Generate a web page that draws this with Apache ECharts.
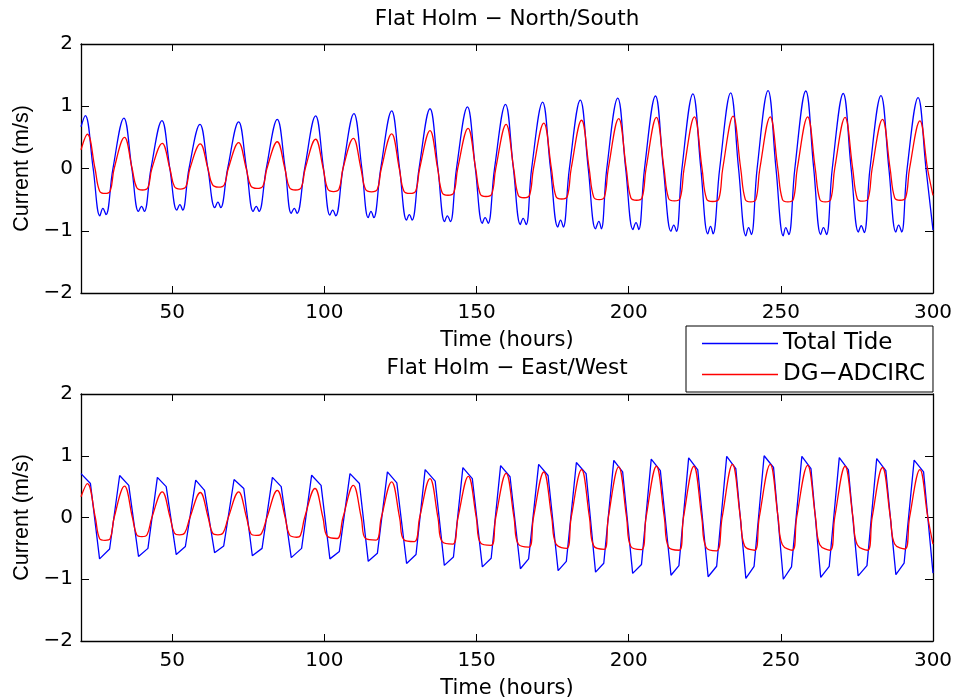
<!DOCTYPE html>
<html><head><meta charset="utf-8">
<script src="https://cdn.jsdelivr.net/npm/echarts@6/dist/echarts.min.js"></script>
<style>html,body{margin:0;padding:0;background:#fff}#c{width:956px;height:700px}</style>
</head><body><div id="c"></div>
<script>
const xTicks = [50, 100, 150, 200, 250, 300];
const seriesNames = ['Total Tide', 'DG\u2212ADCIRC'];
const panelTitles = ['Flat Holm \u2212 North/South', 'Flat Holm \u2212 East/West'];
const xName = 'Time (hours)';
const yName = 'Current (m/s)';

// North/South, Total Tide (hour, m/s)
const nsTotal = [
[20,0.67],[21.4,0.85],[24.0,0],[26.2,-0.76],[27.2,-0.64],[28.2,-0.74],[30.5,0],
[34.1,0.81],[36.7,0],[38.9,-0.69],[39.9,-0.61],[40.8,-0.69],[43.0,0],
[46.6,0.77],[49.2,0],[51.5,-0.67],[52.5,-0.58],[53.4,-0.67],[55.5,0],
[59.1,0.71],[61.7,0],[64.0,-0.63],[65.0,-0.54],[65.9,-0.63],[68.2,0],
[71.8,0.75],[74.4,0],[76.6,-0.69],[77.6,-0.61],[78.5,-0.69],[80.9,0],
[84.5,0.79],[87.1,0],[89.1,-0.72],[90.1,-0.64],[91.0,-0.72],[93.5,0],
[97.1,0.845],[99.7,0],[101.8,-0.75],[102.7,-0.67],[103.7,-0.76],[106.1,0],
[109.7,0.88],[112.3,0],[114.4,-0.79],[115.3,-0.69],[116.2,-0.79],[118.5,0],
[122.1,0.925],[124.7,0],[127.0,-0.83],[127.9,-0.74],[128.8,-0.83],[131.1,0],
[134.7,0.96],[137.3,0],[139.5,-0.855],[140.4,-0.76],[141.4,-0.855],[143.4,0],
[147.0,0.99],[149.6,0],[151.9,-0.88],[152.8,-0.79],[153.8,-0.88],[155.9,0],
[159.5,1.03],[162.1,0],[164.4,-0.90],[165.3,-0.80],[166.3,-0.90],[168.1,0],
[171.7,1.065],[174.3,0],[176.7,-0.94],[177.6,-0.83],[178.5,-0.94],[180.5,0],
[184.1,1.10],[186.7,0],[189.1,-0.97],[190.2,-0.85],[191.0,-0.97],[192.8,0],
[196.4,1.13],[199.0,0],[201.4,-0.98],[202.4,-0.87],[203.3,-0.98],[205.2,0],
[208.8,1.165],[211.4,0],[213.9,-1.01],[214.8,-0.91],[215.7,-1.01],[217.5,0],
[221.1,1.20],[223.7,0],[226.0,-1.05],[226.9,-0.93],[227.7,-1.05],[229.9,0],
[233.5,1.215],[236.1,0],[238.5,-1.08],[239.4,-0.95],[240.3,-1.06],[242.2,0],
[245.8,1.25],[248.4,0],[250.8,-1.08],[251.6,-0.95],[252.6,-1.06],[254.6,0],
[258.2,1.245],[260.8,0],[263.1,-1.06],[264.0,-0.95],[265.0,-1.06],[266.9,0],
[270.5,1.205],[273.1,0],[275.5,-1.02],[276.4,-0.92],[277.4,-1.03],[279.3,0],
[282.9,1.17],[285.5,0],[287.8,-1.02],[288.7,-0.91],[289.7,-1.02],[291.5,0],
[295.1,1.14],[297.7,0],[300,-0.99]
];

// North/South, DG-ADCIRC
const nsModel = [
[20,0.30],
[22.1,0.55],[24.6,0],[26.1,-0.36],[27.9,-0.40],[29.6,-0.36],[30.9,0],
[34.3,0.50],[36.8,0],[38.3,-0.305],[40.2,-0.345],[42.0,-0.305],[43.3,0],
[46.7,0.405],[49.2,0],[50.7,-0.29],[52.6,-0.33],[54.5,-0.29],[55.8,0],
[59.2,0.394],[61.7,0],[63.2,-0.26],[65.2,-0.30],[67.1,-0.26],[68.4,0],
[71.8,0.415],[74.3,0],[75.8,-0.28],[77.8,-0.32],[79.8,-0.28],[81.1,0],
[84.5,0.43],[87.0,0],[88.5,-0.305],[90.5,-0.345],[92.4,-0.305],[93.7,0],
[97.1,0.47],[99.6,0],[101.1,-0.33],[103.0,-0.37],[104.8,-0.33],[106.1,0],
[109.5,0.485],[112.0,0],[113.5,-0.335],[115.5,-0.375],[117.4,-0.335],[118.7,0],
[122.1,0.555],[124.6,0],[126.1,-0.36],[128.1,-0.40],[130.0,-0.36],[131.3,0],
[134.7,0.61],[137.2,0],[138.7,-0.39],[140.6,-0.43],[142.5,-0.39],[143.8,0],
[147.2,0.645],[149.7,0],[151.2,-0.41],[153.1,-0.45],[155.0,-0.41],[156.3,0],
[159.7,0.71],[162.2,0],[163.7,-0.43],[165.6,-0.47],[167.4,-0.43],[168.7,0],
[172.1,0.73],[174.6,0],[176.1,-0.45],[178.0,-0.49],[179.8,-0.45],[181.1,0],
[184.5,0.775],[187.0,0],[188.5,-0.46],[190.3,-0.50],[192.0,-0.46],[193.3,0],
[196.7,0.80],[199.2,0],[200.7,-0.47],[202.6,-0.51],[204.4,-0.47],[205.7,0],
[209.1,0.82],[211.6,0],[213.1,-0.48],[215.0,-0.52],[216.9,-0.48],[218.2,0],
[221.6,0.83],[224.1,0],[225.6,-0.49],[227.6,-0.53],[229.6,-0.49],[230.9,0],
[234.3,0.84],[236.8,0],[238.3,-0.495],[240.1,-0.535],[241.8,-0.495],[243.1,0],
[246.5,0.83],[249.0,0],[250.5,-0.495],[252.3,-0.535],[254.1,-0.495],[255.4,0],
[258.8,0.83],[261.3,0],[262.8,-0.495],[264.6,-0.535],[266.4,-0.495],[267.7,0],
[271.1,0.82],[273.6,0],[275.1,-0.485],[276.9,-0.525],[278.7,-0.485],[280.0,0],
[283.4,0.79],[285.9,0],[287.4,-0.47],[289.2,-0.51],[291.0,-0.47],[292.3,0],
[295.7,0.765],[298.2,0],[300,-0.43]
];

// East/West, Total Tide
const ewTotal = [
[20,0.71],[23.1,0.55],[26.1,-0.67],[29.4,-0.51],
[32.7,0.68],[35.7,0.52],[38.9,-0.63],[42.0,-0.50],
[45.1,0.65],[48.0,0.50],[51.3,-0.60],[54.3,-0.47],
[57.7,0.605],[60.6,0.44],[63.9,-0.57],[66.9,-0.46],
[70.3,0.615],[73.5,0.47],[76.3,-0.62],[79.5,-0.50],
[82.9,0.65],[85.8,0.50],[89.1,-0.65],[92.5,-0.50],
[95.8,0.685],[98.9,0.52],[101.8,-0.67],[104.9,-0.55],
[108.4,0.71],[111.5,0.55],[114.4,-0.71],[117.4,-0.58],
[120.7,0.74],[123.8,0.56],[127.0,-0.745],[130.1,-0.60],
[133.1,0.775],[136.4,0.59],[139.4,-0.775],[142.4,-0.64],
[145.5,0.807],[148.6,0.63],[151.9,-0.80],[154.8,-0.66],
[157.9,0.84],[161.0,0.66],[164.4,-0.83],[167.1,-0.67],
[170.4,0.86],[173.5,0.68],[176.8,-0.86],[179.5,-0.71],
[182.8,0.89],[186.0,0.71],[189.1,-0.885],[191.8,-0.74],
[195.1,0.925],[198.0,0.74],[201.3,-0.905],[204.2,-0.76],
[207.4,0.945],[210.4,0.76],[213.9,-0.935],[216.5,-0.78],
[219.7,0.965],[222.7,0.77],[226.1,-0.96],[228.9,-0.79],
[232.2,0.99],[235.2,0.79],[238.5,-0.985],[241.2,-0.79],
[244.5,1.0],[247.6,0.81],[250.8,-1.0],[253.5,-0.80],
[256.9,0.99],[259.9,0.79],[263.1,-0.97],[265.9,-0.79],
[269.2,0.97],[272.2,0.77],[275.4,-0.945],[278.3,-0.78],
[281.5,0.955],[284.5,0.76],[287.8,-0.925],[290.5,-0.74],
[293.8,0.93],[296.9,0.74],[300,-0.90]
];

// East/West, DG-ADCIRC
const ewModel = [
[20,0.335],
[22.1,0.55],[24.7,0],[26.1,-0.34],[27.9,-0.37],[29.6,-0.34],[30.9,0],
[34.3,0.507],[36.9,0],[38.3,-0.28],[40.0,-0.31],[41.7,-0.28],[43.3,0],
[46.7,0.415],[49.3,0],[50.7,-0.25],[52.4,-0.28],[54.1,-0.25],[55.8,0],
[59.2,0.405],[61.8,0],[63.2,-0.25],[65.0,-0.28],[66.7,-0.25],[68.4,0],
[71.8,0.415],[74.4,0],[75.8,-0.26],[77.6,-0.29],[79.3,-0.26],[81.1,0],
[84.5,0.44],[87.1,0],[88.5,-0.28],[90.8,-0.32],[92.1,-0.29],[93.5,0],
[96.9,0.47],[99.5,0],[100.9,-0.30],[104.2,-0.34],[106.1,0],
[109.5,0.52],[112.1,0],[113.5,-0.34],[117.0,-0.365],[118.7,0],
[122.1,0.576],[124.7,0],[126.1,-0.36],[129.6,-0.39],[131.3,0],
[134.7,0.63],[137.3,0],[138.7,-0.39],[142.2,-0.43],[143.9,0],
[147.3,0.667],[149.9,0],[151.3,-0.41],[154.8,-0.45],[156.3,0],
[159.7,0.715],[162.3,0],[163.7,-0.43],[167.2,-0.48],[168.7,0],
[172.1,0.737],[174.7,0],[176.1,-0.43],[179.6,-0.50],[181.1,0],
[184.5,0.775],[187.1,0],[188.5,-0.46],[192.0,-0.515],[193.3,0],
[196.7,0.82],[199.3,0],[200.7,-0.47],[204.2,-0.52],[205.7,0],
[209.1,0.83],[211.7,0],[213.1,-0.48],[216.6,-0.53],[218.0,0],
[221.4,0.83],[224.0,0],[225.4,-0.48],[228.9,-0.54],[230.7,0],
[234.1,0.86],[236.7,0],[238.1,-0.46],[241.4,-0.53],[242.9,0],
[246.5,0.86],[249.1,0],[250.5,-0.44],[253.8,-0.53],[255.2,0],
[258.8,0.845],[261.4,0],[262.8,-0.44],[266.2,-0.53],[267.7,0],
[271.1,0.83],[273.7,0],[275.1,-0.44],[278.5,-0.53],[280.0,0],
[283.4,0.81],[286.0,0],[287.4,-0.43],[290.8,-0.51],[292.3,0],
[295.7,0.775],[298.3,0],[300,-0.43]
];

const FONT = 'DejaVu Sans';
const axisLineStyle = {color: '#000', width: 1.3};

function xAxes(gi) {
  return [
    {type: 'value', gridIndex: gi, min: 20, max: 300, position: 'bottom',
     axisLine: {onZero: false, lineStyle: axisLineStyle},
     axisTick: {inside: true, length: 7, customValues: xTicks, lineStyle: {color: '#000', width: 1}},
     axisLabel: {customValues: xTicks, margin: 10, color: '#000', fontSize: 20, fontFamily: FONT},
     splitLine: {show: false},
     name: xName, nameLocation: 'middle', nameGap: 37,
     nameTextStyle: {color: '#000', fontSize: 21, fontFamily: FONT}},
    {type: 'value', gridIndex: gi, min: 20, max: 300, position: 'top',
     axisLine: {onZero: false, lineStyle: axisLineStyle},
     axisTick: {inside: true, length: 7, customValues: xTicks, lineStyle: {color: '#000', width: 1}},
     axisLabel: {show: false}, splitLine: {show: false}}
  ];
}
function yAxes(gi) {
  return [
    {type: 'value', gridIndex: gi, min: -2, max: 2, interval: 1, position: 'left',
     axisLine: {onZero: false, lineStyle: axisLineStyle},
     axisTick: {inside: true, length: 8, lineStyle: {color: '#000', width: 1}},
     axisLabel: {margin: 8, color: '#000', fontSize: 20, fontFamily: FONT,
       formatter: v => v < 0 ? '\u2212' + Math.abs(v) : String(v)},
     splitLine: {show: false},
     name: yName, nameLocation: 'middle', nameGap: 46, nameRotate: 90,
     nameTextStyle: {color: '#000', fontSize: 21.5, fontFamily: 'Liberation Sans'}},
    {type: 'value', gridIndex: gi, min: -2, max: 2, interval: 1, position: 'right',
     axisLine: {onZero: false, lineStyle: axisLineStyle},
     axisTick: {inside: true, length: 8, lineStyle: {color: '#000', width: 1}},
     axisLabel: {show: false}, splitLine: {show: false}}
  ];
}

function line(name, data, color, gi, smooth) {
  return {type: 'line', name: name, data: data, xAxisIndex: gi * 2, yAxisIndex: gi * 2,
    symbol: 'none', smooth: smooth, clip: true, silent: true,
    lineStyle: {color: color, width: 1.3}, itemStyle: {color: color}};
}

const chart = echarts.init(document.getElementById('c'), null, {renderer: 'canvas'});
chart.setOption({
  animation: false,
  backgroundColor: '#fff',
  grid: [
    {left: 81, right: 23, top: 44, height: 249, containLabel: false},
    {left: 81, right: 23, top: 394, height: 248, containLabel: false}
  ],
  xAxis: xAxes(0).concat(xAxes(1)),
  yAxis: yAxes(0).concat(yAxes(1)),
  graphic: [
    {type: 'text', x: 507, y: 19.5, style: {text: panelTitles[0], font: '21.5px "DejaVu Sans"', fill: '#000', align: 'center', verticalAlign: 'middle'}},
    {type: 'text', x: 507, y: 368.5, style: {text: panelTitles[1], font: '21.5px "DejaVu Sans"', fill: '#000', align: 'center', verticalAlign: 'middle'}}
  ],
  legend: {
    orient: 'vertical', left: 686, top: 326, padding: [6, 8, 6, 16], itemGap: 8,
    itemWidth: 76, itemHeight: 1.4, icon: 'rect', borderColor: '#000', borderWidth: 1, backgroundColor: '#fff',
    textStyle: {color: '#000', fontSize: 23, fontFamily: FONT},
    data: seriesNames, z: 20
  },
  series: [
    line(seriesNames[0], nsTotal, '#0000ff', 0, 0.4),
    line(seriesNames[1], nsModel, '#ff0000', 0, 0.4),
    line(seriesNames[0], ewTotal, '#0000ff', 1, false),
    line(seriesNames[1], ewModel, '#ff0000', 1, 0.4)
  ]
});
</script></body></html>
